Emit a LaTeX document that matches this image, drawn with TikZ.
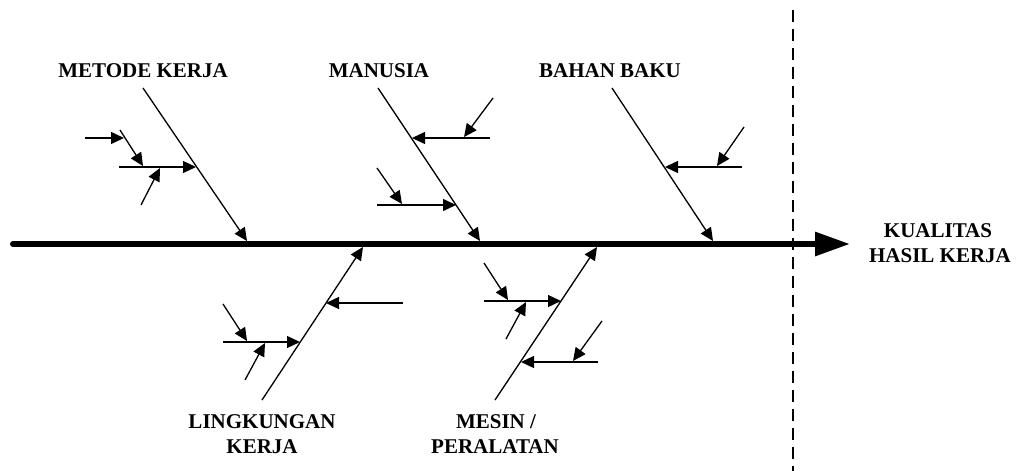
\documentclass[tikz,border=0pt]{standalone}
\usepackage{fontspec}
\setmainfont{Liberation Serif}
\usetikzlibrary{arrows.meta}
\tikzset{
  bone/.style={line width=1.3pt, -{Triangle[length=13pt,width=12pt]}},
  spine/.style={line width=6pt, line cap=round, -{Triangle[length=35pt,width=23pt]}},
  lbl/.style={font=\fontsize{21}{25}\selectfont\bfseries, inner sep=0pt, anchor=base},
  sepline/.style={line width=1.3pt, dash pattern=on 12pt off 7pt}
}
\begin{document}
\begin{tikzpicture}[x=1pt,y=-1pt]
\useasboundingbox (0,0) rectangle (1018,471);
% spine and separator
\coordinate (sp0) at (13,244);
\coordinate (sp1) at (850,244);
\coordinate (d0) at (793,10);
\coordinate (d1) at (793,471);
\draw[sepline] (d0) -- (d1);
\draw[spine] (sp0) -- (sp1);
% labels
\node[lbl] (lmet) at (143,77) {METODE KERJA};
\node[lbl] (lman) at (379,77) {MANUSIA};
\node[lbl] (lbah) at (610,77) {BAHAN BAKU};
\node[lbl] (lkua) at (938,237) {KUALITAS};
\node[lbl] (lhas) at (940,262) {HASIL KERJA};
\node[lbl] (llin) at (262,428) {LINGKUNGAN};
\node[lbl] (lker) at (262,453) {KERJA};
\node[lbl] (lmes) at (496,428) {MESIN /};
\node[lbl] (lper) at (495,453) {PERALATAN};
% METODE KERJA
\coordinate (m0) at (143,88);  \coordinate (m1) at (247,241);
\coordinate (ma0) at (119,167); \coordinate (ma1) at (196,167);
\coordinate (mb0) at (85,138);  \coordinate (mb1) at (124,138);
\coordinate (mc0) at (120,130); \coordinate (mc1) at (143,166);
\coordinate (md0) at (141,205); \coordinate (md1) at (160,168);
\draw[bone] (m0) -- (m1);
\draw[bone] (ma0) -- (ma1);
\draw[bone] (mb0) -- (mb1);
\draw[bone] (mc0) -- (mc1);
\draw[bone] (md0) -- (md1);
% MANUSIA
\coordinate (h0) at (378,88);  \coordinate (h1) at (480,241);
\coordinate (ha0) at (490,138); \coordinate (ha1) at (412,138);
\coordinate (hb0) at (493,98);  \coordinate (hb1) at (464,137);
\coordinate (hc0) at (377,205); \coordinate (hc1) at (456,205);
\coordinate (hd0) at (377,168); \coordinate (hd1) at (402,204);
\draw[bone] (h0) -- (h1);
\draw[bone] (ha0) -- (ha1);
\draw[bone] (hb0) -- (hb1);
\draw[bone] (hc0) -- (hc1);
\draw[bone] (hd0) -- (hd1);
% BAHAN BAKU
\coordinate (b0) at (612,88);  \coordinate (b1) at (713,241);
\coordinate (ba0) at (742,167); \coordinate (ba1) at (665,167);
\coordinate (bb0) at (744,127); \coordinate (bb1) at (717,166);
\draw[bone] (b0) -- (b1);
\draw[bone] (ba0) -- (ba1);
\draw[bone] (bb0) -- (bb1);
% LINGKUNGAN KERJA
\coordinate (l0) at (262,400);  \coordinate (l1) at (363,247);
\coordinate (la0) at (403,303); \coordinate (la1) at (326,303);
\coordinate (lb0) at (223,342); \coordinate (lb1) at (300,342);
\coordinate (lc0) at (223,304); \coordinate (lc1) at (247,341);
\coordinate (ld0) at (245,380); \coordinate (ld1) at (265,343);
\draw[bone] (l0) -- (l1);
\draw[bone] (la0) -- (la1);
\draw[bone] (lb0) -- (lb1);
\draw[bone] (lc0) -- (lc1);
\draw[bone] (ld0) -- (ld1);
% MESIN / PERALATAN
\coordinate (e0) at (495,400);  \coordinate (e1) at (597,247);
\coordinate (ea0) at (484,301); \coordinate (ea1) at (561,301);
\coordinate (eb0) at (484,263); \coordinate (eb1) at (508,300);
\coordinate (ec0) at (506,339); \coordinate (ec1) at (526,302);
\coordinate (ed0) at (598,362); \coordinate (ed1) at (521,362);
\coordinate (ee0) at (602,321); \coordinate (ee1) at (573,361);
\draw[bone] (e0) -- (e1);
\draw[bone] (ea0) -- (ea1);
\draw[bone] (eb0) -- (eb1);
\draw[bone] (ec0) -- (ec1);
\draw[bone] (ed0) -- (ed1);
\draw[bone] (ee0) -- (ee1);
\end{tikzpicture}
\end{document}
